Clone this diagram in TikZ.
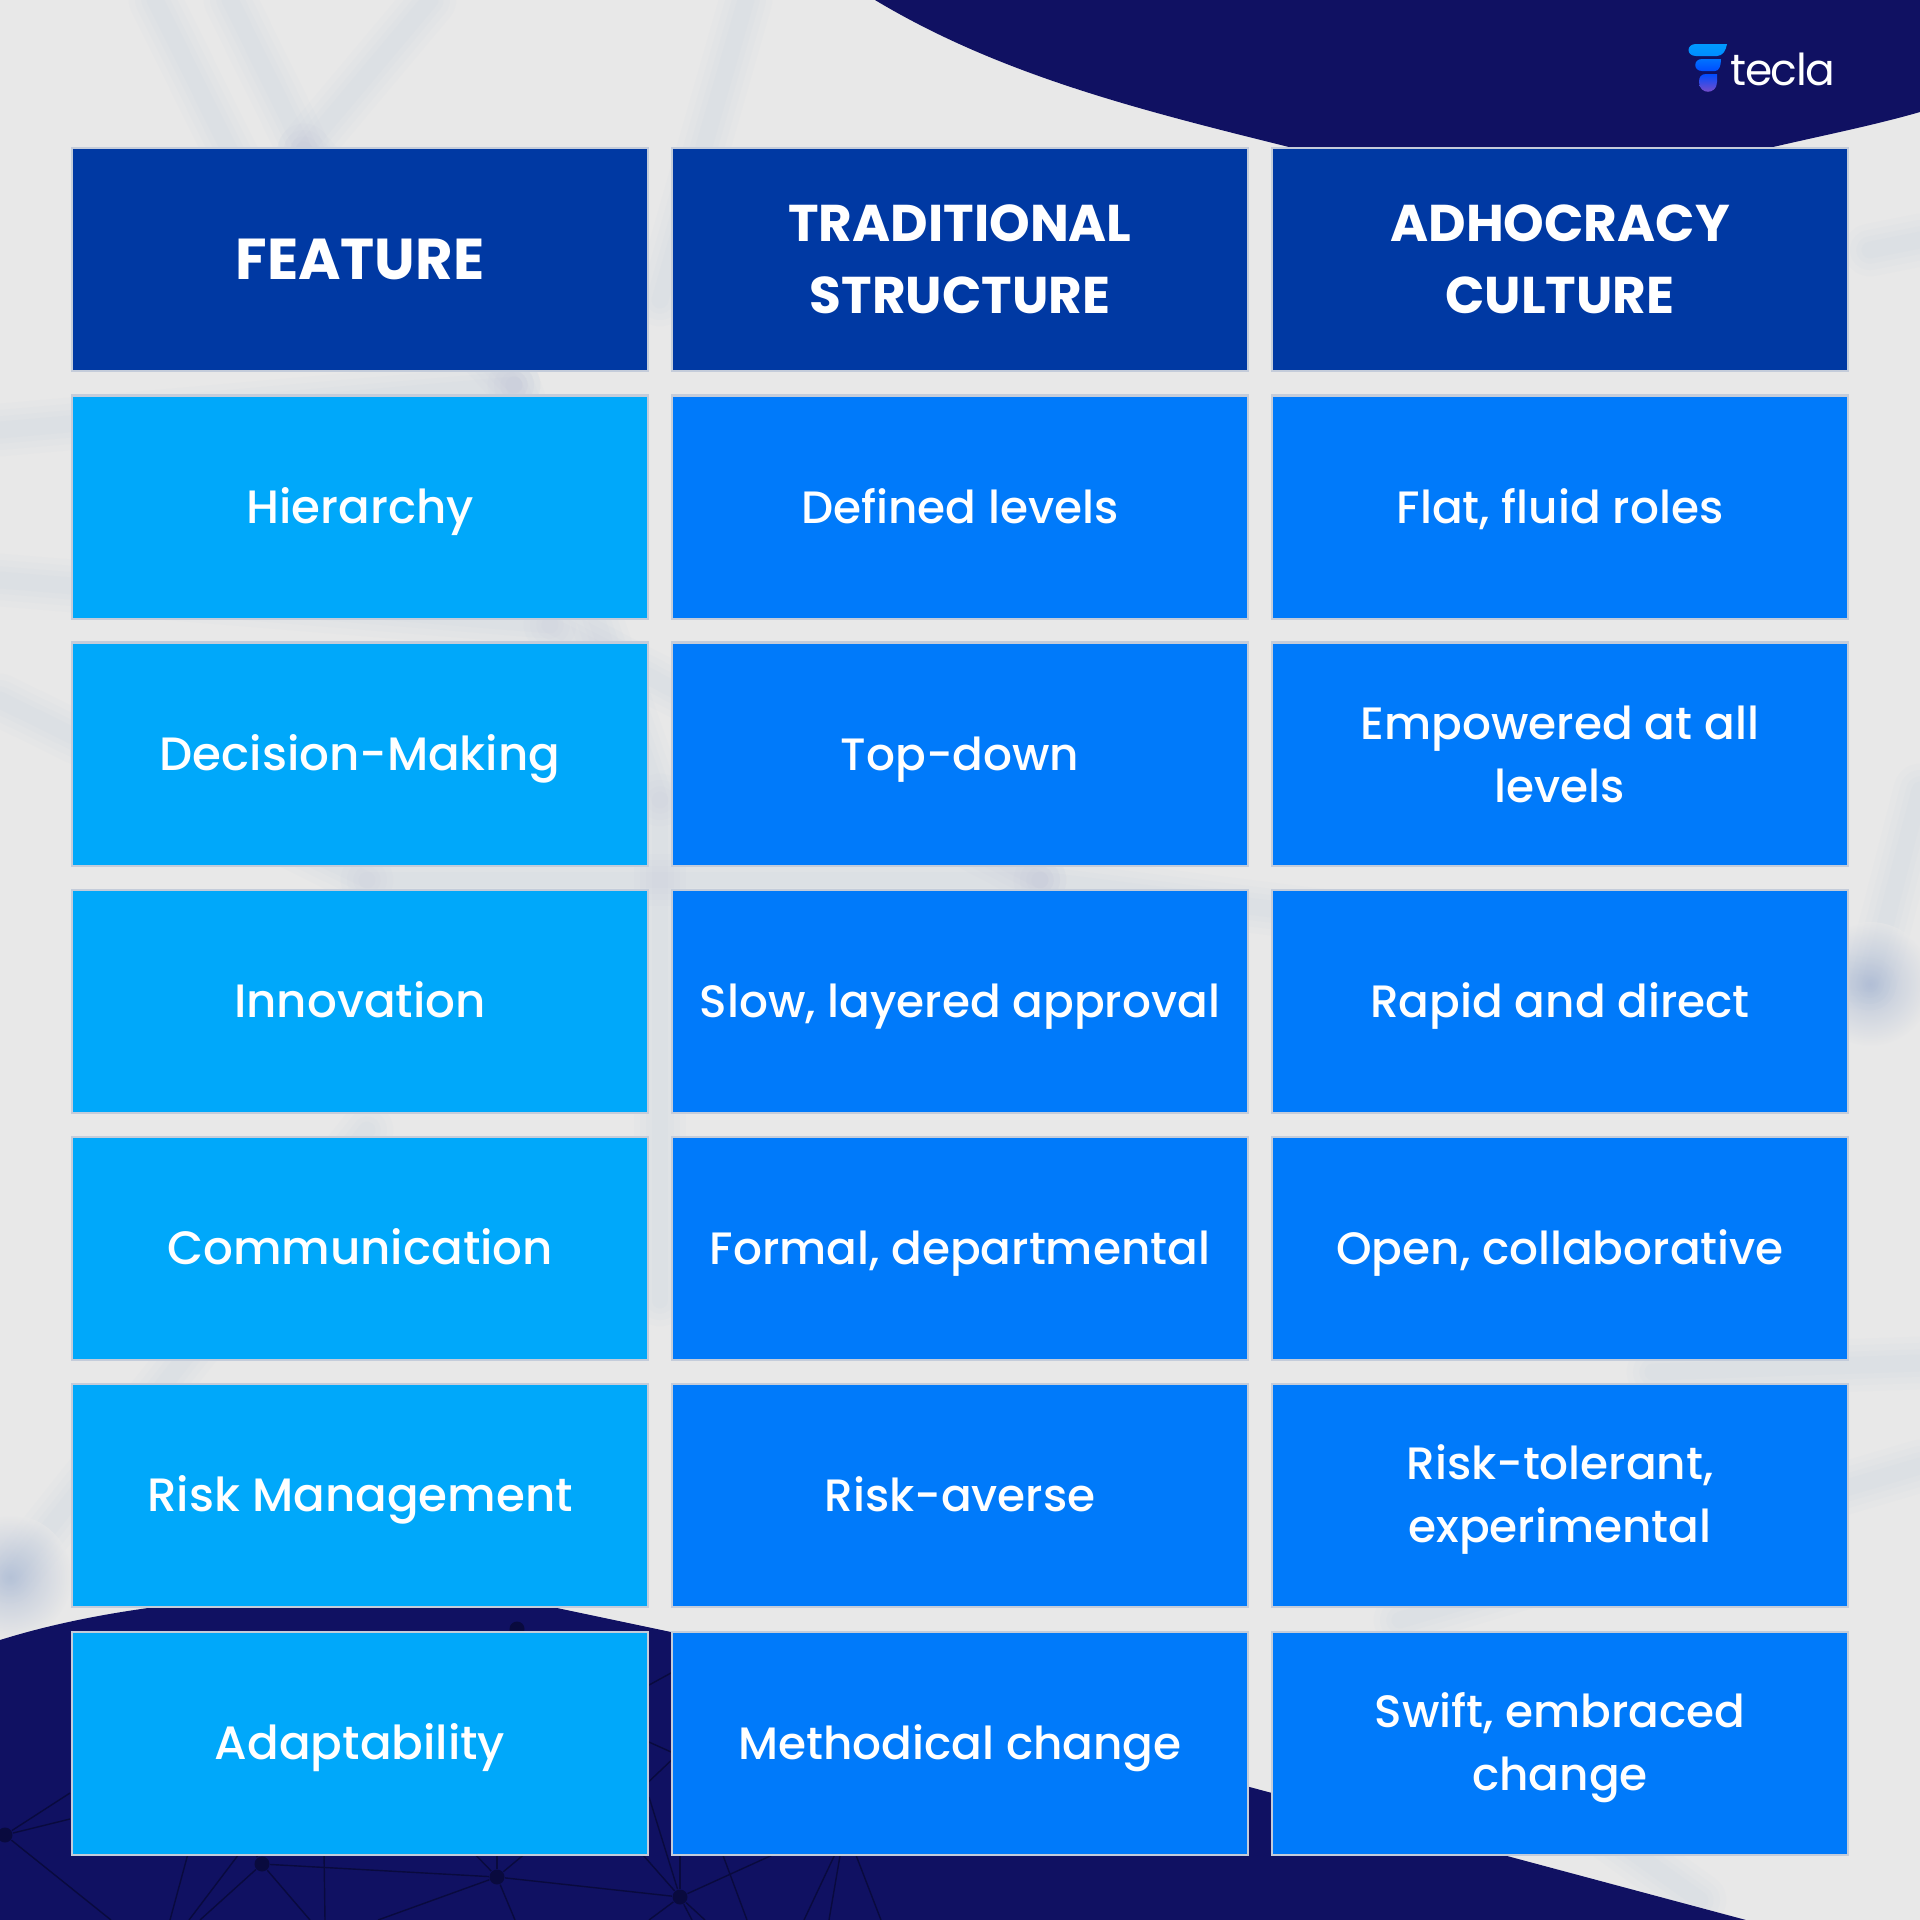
\documentclass[tikz,border=0pt]{standalone}
\usepackage{amsmath}
\usepackage{fontspec}
\setmainfont{Poppins}
\newfontfamily\cellfont{Poppins Medium}
\newfontfamily\logofont{Poppins}[LetterSpace=-3.5]
\definecolor{paper}{RGB}{232,232,232}
\definecolor{navy}{RGB}{16,17,98}
\definecolor{netdark}{RGB}{9,10,62}
\definecolor{haze}{RGB}{150,170,205}
\definecolor{rim}{RGB}{196,204,218}
\definecolor{headblue}{RGB}{0,57,163}
\definecolor{skyblue}{RGB}{0,168,250}
\definecolor{midblue}{RGB}{0,122,250}
\newcommand{\cellstrut}{\rule[-5pt]{0pt}{19.35pt}}
\newcommand{\lastline}[1]{\smash{#1}\rule[-1.4pt]{0pt}{0pt}}
\tikzset{
  cell/.style={rectangle, draw=rim, line width=0.6pt, text=white, align=center, inner sep=0pt,
    minimum width=5.76cm, minimum height=2.23cm},
  headcell/.style={cell, fill=headblue, font=\bfseries\fontsize{14.7pt}{20.5pt}\selectfont},
  oneline/.style={execute at begin node=\cellstrut, execute at end node=\cellstrut},
  featcell/.style={cell, oneline, fill=skyblue, font=\cellfont\fontsize{13.3pt}{17.9pt}\selectfont},
  widecell/.style={cell, fill=midblue, font=\cellfont\fontsize{12.9pt}{17.9pt}\selectfont},
  bodycell/.style={widecell, oneline},
  netdot/.style={circle, fill=netdark, inner sep=0pt, minimum size=0.15cm},
  netline/.style={netdark, line width=0.4pt},
  hazeline/.style={haze, line cap=round, opacity=0.028}
}
\newcommand{\hazeto}[2]{%
  \foreach \wd in {50,38,26,16} {\draw[hazeline, line width=\wd pt*0.3] (#1) -- (#2);}%
}
\begin{document}
\begin{tikzpicture}[x=0.01cm, y=-0.01cm]
  \useasboundingbox (0,0) rectangle (1920,1920);
  \fill[paper] (0,0) rectangle (1920,1920);

  % Haze
  \hazeto{155,0}{304,300}
  \hazeto{230,0}{304,150}
  \hazeto{430,0}{304,150}
  \hazeto{746,0}{660,300}
  \hazeto{304,150}{514,385}
  \hazeto{0,430}{514,385}
  \hazeto{0,580}{550,625}
  \hazeto{0,700}{367,880}
  \hazeto{514,385}{660,800}
  \hazeto{550,625}{1040,880}
  \hazeto{367,880}{1040,880}
  \hazeto{660,800}{660,1300}
  \hazeto{10,1577}{367,1130}
  \hazeto{1040,880}{1870,984}
  \hazeto{1870,984}{1920,790}
  \hazeto{1653,1372}{1920,1363}
  \hazeto{1400,1620}{1920,1466}
  \hazeto{1870,250}{1920,240}
  \hazeto{1560,1800}{1700,1900}
  \shade[inner color=haze, outer color=paper, opacity=0.55] (1870,984) circle (62);
  \shade[inner color=haze, outer color=paper, opacity=0.55] (10,1577) circle (62);

  % Corners
  \fill[navy] (875,0) .. controls (1000,75) and (1140,110) .. (1289,147)
    .. controls (1450,187) and (1600,187) .. (1773,147)
    .. controls (1825,135) and (1875,125) .. (1920,112) -- (1920,0) -- cycle;
  \fill[navy] (0,1640) .. controls (48,1625) and (98,1615) .. (148,1608)
    .. controls (280,1585) and (440,1585) .. (557,1608)
    -- (671,1632) -- (1746,1920) -- (0,1920) -- cycle;

  % Network
  \node[netdot] (neta) at (5,1835) {};
  \node[netdot] (netb) at (262,1864) {};
  \node[netdot] (netc) at (497,1877) {};
  \node[netdot] (netd) at (680,1897) {};
  \node[netdot] (nete) at (517,1629) {};
  \draw[netline] (neta) -- ++(65,-42);
  \draw[netline] (neta) -- ++(65,-16);
  \draw[netline] (neta) -- ++(106,85);
  \draw[netline] (netb) -- ++(-20,-30);
  \draw[netline] (netb) -- ++(-62,56);
  \draw[netline] (netb) -- ++(48,56);
  \draw[netline] (netb) -- (netc);
  \draw[netline] (netc) -- (netd);
  \draw[netline] (netc) -- ++(0,-30);
  \draw[netline] (netc) -- ++(-29,-30);
  \draw[netline] (netc) -- ++(36,-30);
  \draw[netline] (netc) -- ++(-119,43);
  \draw[netline] (netc) -- ++(18,43);
  \draw[netline] (netd) -- ++(0,-50);
  \draw[netline] (netd) -- ++(-44,-50);
  \draw[netline] (netd) -- ++(-31,-100);
  \draw[netline] (netd) -- ++(110,-50);
  \draw[netline] (netd) -- ++(-31,23);
  \draw[netline] (netd) -- ++(12,23);
  \draw[netline] (netd) -- ++(25,23);
  \draw[netline] (189,1850) -- (170,1920);
  \draw[netline] (242,1850) -- (189,1920);
  \draw[netline] (324,1850) -- (325,1920);
  \draw[netline] (721,1850) -- (747,1920);
  \draw[netline] (837,1850) -- (804,1920);
  \draw[netline] (841,1850) -- (829,1920);
  \draw[netline] (854,1850) -- (881,1920);
  \draw[netline] (640,1690) -- (680,1668);
  \draw[netline] (640,1738) -- (680,1756);
  \draw[netline] (640,1790) -- (680,1752);

  % Table
  \node[headcell, font=\bfseries\fontsize{16.4pt}{20.5pt}\selectfont] (feature) at (360,259.5) {FEATURE};
  \node[headcell] (traditional) at (960,259.5) {TRADITIONAL\\STRUCTURE};
  \node[headcell] (adhocracy) at (1560,259.5) {ADHOCRACY\\CULTURE};
  \node[featcell] (hierarchy) at (360,507) {Hierarchy};
  \node[bodycell] (levels) at (960,507) {Defined levels};
  \node[bodycell] (roles) at (1560,507) {Flat, fluid roles};
  \node[featcell] (decision) at (360,754) {Decision-Making};
  \node[bodycell] (topdown) at (960,754) {Top-down};
  \node[widecell] (empowered) at (1560,754) {Empowered at all\\levels};
  \node[featcell] (innovation) at (360,1001.5) {Innovation};
  \node[bodycell] (approval) at (960,1001.5) {Slow, layered approval};
  \node[bodycell] (rapid) at (1560,1001.5) {Rapid and direct};
  \node[featcell] (communication) at (360,1248.5) {Communication};
  \node[bodycell] (formal) at (960,1248.5) {Formal, departmental};
  \node[bodycell] (open) at (1560,1248.5) {Open, collaborative};
  \node[featcell] (risk) at (360,1495.5) {Risk Management};
  \node[bodycell] (averse) at (960,1495.5) {Risk-averse};
  \node[widecell] (tolerant) at (1560,1495.5) {Risk-tolerant,\\\lastline{experimental}};
  \node[featcell] (adapt) at (360,1743.5) {Adaptability};
  \node[bodycell] (methodical) at (960,1743.5) {Methodical change};
  \node[widecell] (swift) at (1560,1743.5) {Swift, embraced\\\lastline{change}};

  % Logo
  \shade[top color=cyan!60!blue, bottom color=blue!45!cyan, shading angle=0]
    (1727,44) -- (1696,44) .. controls (1686,44) and (1686,56) .. (1696,56)
    -- (1717,56) .. controls (1723,56) and (1726,50) .. cycle;
  \shade[top color=blue!55!cyan, bottom color=blue!70!cyan]
    (1721,59) -- (1702,59) .. controls (1693,59) and (1693,71) .. (1702,71)
    -- (1715,71) .. controls (1719,71) and (1721,66) .. cycle;
  \shade[top color=blue!70!cyan, bottom color=violet!70!blue!70!white]
    (1717,74) -- (1706,74) .. controls (1701,74) and (1699,77) .. (1699,82)
    .. controls (1699,95) and (1717,95) .. (1717,82) -- cycle;
  \node[anchor=base west, inner sep=0pt, text=white, font=\logofont\fontsize{12.5pt}{13pt}\selectfont] (tecla) at (1730,85) {tecla};
\end{tikzpicture}
\end{document}
